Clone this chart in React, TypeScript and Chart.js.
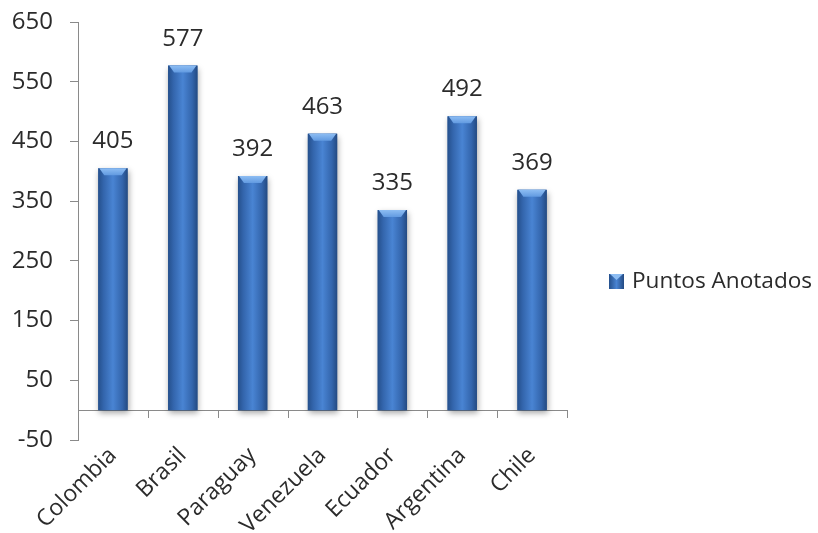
import React, { useEffect, useRef } from 'react';
import { Chart, registerables } from 'chart.js';

Chart.register(...registerables);

const categories = ['Colombia', 'Brasil', 'Paraguay', 'Venezuela', 'Ecuador', 'Argentina', 'Chile'];
const seriesName = 'Puntos Anotados';
const values = [405, 577, 392, 463, 335, 492, 369];
const yTicks = [-50, 50, 150, 250, 350, 450, 550, 650];

const FONT = '"Open Sans", "DejaVu Sans", sans-serif';
const TEXT = '#2b2b2b';
const AXIS = '#8a8a8a';

function barGradient(ctx: CanvasRenderingContext2D, l: number, r: number) {
  const g = ctx.createLinearGradient(l, 0, r, 0);
  g.addColorStop(0, '#25508c');
  g.addColorStop(0.18, '#3365ac');
  g.addColorStop(0.5, '#4984d3');
  g.addColorStop(0.82, '#3365ac');
  g.addColorStop(1, '#234a82');
  return g;
}

const zeroAxisPlugin = {
  id: 'zeroAxis',
  beforeDatasetsDraw(chart: any) {
    const { ctx, chartArea, scales } = chart;
    const x = scales.x;
    const y0 = scales.y.getPixelForValue(0);
    ctx.save();
    ctx.strokeStyle = AXIS;
    ctx.lineWidth = 1;
    ctx.beginPath();
    ctx.moveTo(chartArea.left, Math.round(y0) + 0.5);
    ctx.lineTo(chartArea.right, Math.round(y0) + 0.5);
    const n = categories.length;
    const step = (chartArea.right - chartArea.left) / n;
    for (let i = 1; i <= n; i++) {
      const bx = Math.round(x.getPixelForValue(i - 1) + step / 2) + 0.5;
      ctx.moveTo(bx, Math.round(y0));
      ctx.lineTo(bx, Math.round(y0) + 8);
    }
    ctx.stroke();
    ctx.restore();
  },
};

const barStylePlugin = {
  id: 'barStyle',
  afterDatasetsDraw(chart: any) {
    const { ctx } = chart;
    const meta = chart.getDatasetMeta(0);
    meta.data.forEach((el: any, i: number) => {
      const { x, y, base, width } = el.getProps(['x', 'y', 'base', 'width'], true);
      const l = x - width / 2;
      const r = x + width / 2;
      ctx.save();
      ctx.shadowColor = 'rgba(0,0,0,0.35)';
      ctx.shadowBlur = 6;
      ctx.shadowOffsetX = 1;
      ctx.shadowOffsetY = 3;
      ctx.fillStyle = barGradient(ctx, l, r);
      ctx.fillRect(l, y, width, base - y);
      ctx.restore();
      // top bevel
      ctx.save();
      const bg = ctx.createLinearGradient(0, y, 0, y + 8);
      bg.addColorStop(0, '#8dbdf3');
      bg.addColorStop(1, '#5b95de');
      ctx.fillStyle = bg;
      ctx.beginPath();
      ctx.moveTo(l + 1, y);
      ctx.lineTo(r - 1, y);
      ctx.lineTo(r - 6, y + 7);
      ctx.lineTo(l + 6, y + 7);
      ctx.closePath();
      ctx.fill();
      ctx.restore();
      // data label
      ctx.save();
      ctx.font = `24px ${FONT}`;
      ctx.fillStyle = TEXT;
      ctx.textAlign = 'center';
      ctx.textBaseline = 'alphabetic';
      ctx.fillText(String(values[i]), x, y - 20);
      ctx.restore();
    });
  },
};

const legendPlugin = {
  id: 'customLegend',
  afterDraw(chart: any) {
    const { ctx, chartArea } = chart;
    const sx = chartArea.right + 42;
    const sy = 274;
    ctx.save();
    const g = ctx.createLinearGradient(sx, 0, sx + 15, 0);
    g.addColorStop(0, '#25508c');
    g.addColorStop(0.5, '#4984d3');
    g.addColorStop(1, '#234a82');
    ctx.fillStyle = g;
    ctx.fillRect(sx, sy, 15, 15);
    ctx.fillStyle = '#8dbdf3';
    ctx.beginPath();
    ctx.moveTo(sx + 1, sy);
    ctx.lineTo(sx + 14, sy);
    ctx.lineTo(sx + 7.5, sy + 6);
    ctx.closePath();
    ctx.fill();
    ctx.font = `22.6px ${FONT}`;
    ctx.fillStyle = TEXT;
    ctx.textAlign = 'left';
    ctx.textBaseline = 'middle';
    ctx.fillText(seriesName, sx + 23, sy + 8);
    ctx.restore();
  },
};

export default function App() {
  const ref = useRef<HTMLCanvasElement | null>(null);
  useEffect(() => {
    if (!ref.current) return;
    const chart = new Chart(ref.current, {
      type: 'bar',
      data: {
        labels: categories,
        datasets: [
          {
            label: seriesName,
            data: values,
            backgroundColor: '#3b72bd',
            borderWidth: 0,
            categoryPercentage: 1,
            barPercentage: 0.42,
          },
        ],
      },
      options: {
        animation: false,
        responsive: false,
        layout: { padding: { top: 22, right: 251, left: 0, bottom: 0 } },
        plugins: { legend: { display: false }, tooltip: { enabled: false } },
        scales: {
          x: {
            offset: true,
            border: { display: false },
            grid: { display: false, drawTicks: false },
            ticks: {
              minRotation: 45,
              maxRotation: 45,
              autoSkip: false,
              padding: 2,
              color: TEXT,
              font: { family: FONT, size: 23 },
            },
            afterFit: (s: any) => {
              s.height = 93;
            },
          },
          y: {
            min: -50,
            max: 650,
            border: { display: true, color: AXIS },
            grid: { display: true, drawOnChartArea: false, drawTicks: true, tickLength: 8, color: AXIS },
            ticks: {
              padding: 17,
              color: TEXT,
              font: { family: FONT, size: 24 },
            },
            afterBuildTicks: (s: any) => {
              s.ticks = yTicks.map((v) => ({ value: v }));
            },
            afterFit: (s: any) => {
              s.width = 78;
              s.paddingTop = 0;
              s.paddingBottom = 0;
            },
          },
        },
      },
      plugins: [zeroAxisPlugin, barStylePlugin, legendPlugin],
    });
    return () => chart.destroy();
  }, []);
  return (
    <div style={{ position: 'absolute', left: 0, top: 0, width: 818, height: 533, background: '#fff' }}>
      <canvas ref={ref} width={818} height={533} style={{ width: 818, height: 533 }} />
    </div>
  );
}
